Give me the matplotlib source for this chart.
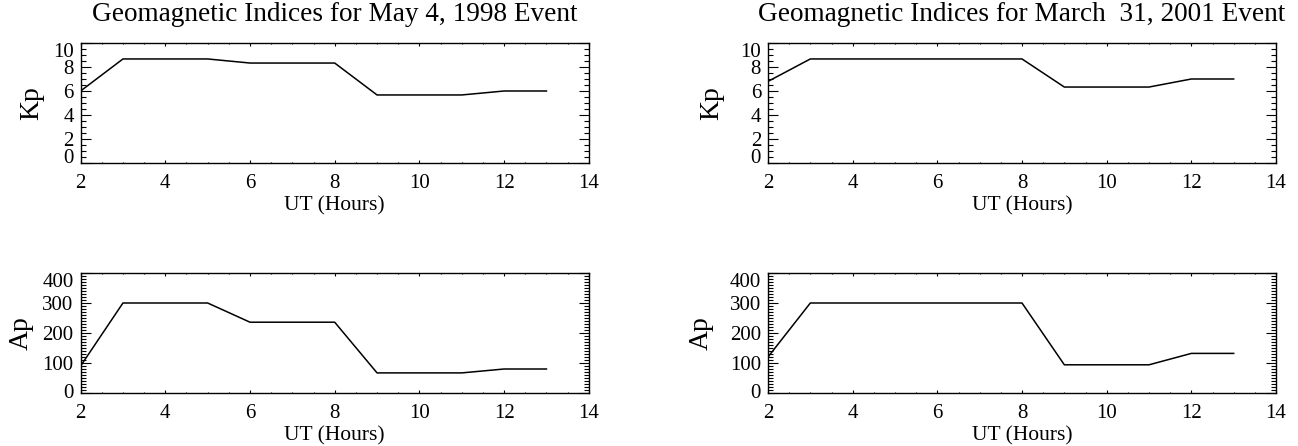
import matplotlib
matplotlib.use("Agg")
import matplotlib.pyplot as plt
from matplotlib.ticker import MultipleLocator

plt.rcParams['font.family'] = ['Liberation Serif', 'DejaVu Serif']

hours = [2, 3, 4, 5, 6, 7, 8, 9, 10, 11, 12, 13]
kp_1998 = [6.0, 8.67, 8.67, 8.67, 8.33, 8.33, 8.33, 5.67, 5.67, 5.67, 6.0, 6.0]
ap_1998 = [90, 300, 300, 300, 236, 236, 236, 67, 67, 67, 80, 80]
kp_2001 = [6.8, 8.67, 8.67, 8.67, 8.67, 8.67, 8.67, 6.33, 6.33, 6.33, 7.0, 7.0]
ap_2001 = [120, 300, 300, 300, 300, 300, 300, 94, 94, 94, 132, 132]

titles = ["Geomagnetic Indices for May 4, 1998 Event",
          "Geomagnetic Indices for March  31, 2001 Event"]
xticks = [2, 4, 6, 8, 10, 12, 14]
kp_ticks = [0, 2, 4, 6, 8, 10]
ap_ticks = [0, 100, 200, 300, 400]

W, H = 1298, 446
fig = plt.figure(figsize=(W / 100, H / 100), dpi=100)

def make_ax(left, right, top, bottom):
    return fig.add_axes([left / W, 1 - bottom / H, (right - left) / W, (bottom - top) / H])

def style(ax, yticks, yminor, ylim, label, label_center_px, axleft, first_va):
    ax.set_xlim(2, 14)
    ax.set_ylim(*ylim)
    ax.set_xticks(xticks)
    ax.set_xticklabels([str(t) for t in xticks])
    ax.xaxis.set_minor_locator(MultipleLocator(0.5))
    ax.set_yticks(yticks)
    ax.set_yticklabels([str(t) for t in yticks])
    ax.yaxis.set_minor_locator(MultipleLocator(yminor))
    ax.tick_params(axis='both', which='both', direction='in', top=True, right=True,
                   width=0.8, colors='black')
    ax.tick_params(axis='x', which='major', length=2.0, pad=8, labelsize=15)
    ax.tick_params(axis='x', which='minor', length=1.0)
    ax.tick_params(axis='y', which='major', length=7.2, pad=5, labelsize=15)
    ax.tick_params(axis='y', which='minor', length=3.8)
    labs = ax.get_yticklabels()
    labs[0].set_verticalalignment(first_va)
    labs[-1].set_verticalalignment('top')
    for sp in ax.spines.values():
        sp.set_linewidth(1.0)
    ax.set_xlabel("UT (Hours)", fontsize=15.5, labelpad=2)
    ax.set_ylabel(label, fontsize=20)
    ax.yaxis.label.set_verticalalignment('center')
    ax.yaxis.set_label_coords((label_center_px - axleft) / 508, 0.5)

# left column
ax1 = make_ax(80.6, 588.8, 43, 163)
ax1.plot(hours, kp_1998, color='black', lw=1.1)
style(ax1, kp_ticks, 0.5, (0, 10), "Kp", 32, 80.6, 'baseline')
ax1.set_title(titles[0], fontsize=19.6, pad=16)

ax2 = make_ax(80.6, 588.8, 273, 393)
ax2.plot(hours, ap_1998, color='black', lw=1.1)
style(ax2, ap_ticks, 10, (0, 400), "Ap", 21, 80.6, 'center')

# right column
ax3 = make_ax(768, 1276, 43, 163)
ax3.plot(hours, kp_2001, color='black', lw=1.1)
style(ax3, kp_ticks, 0.5, (0, 10), "Kp", 712, 768, 'baseline')
ax3.set_title(titles[1], fontsize=19.6, pad=16)

ax4 = make_ax(768, 1276, 273, 393)
ax4.plot(hours, ap_2001, color='black', lw=1.1)
style(ax4, ap_ticks, 10, (0, 400), "Ap", 701, 768, 'center')

fig.savefig("out.png", dpi=100)
